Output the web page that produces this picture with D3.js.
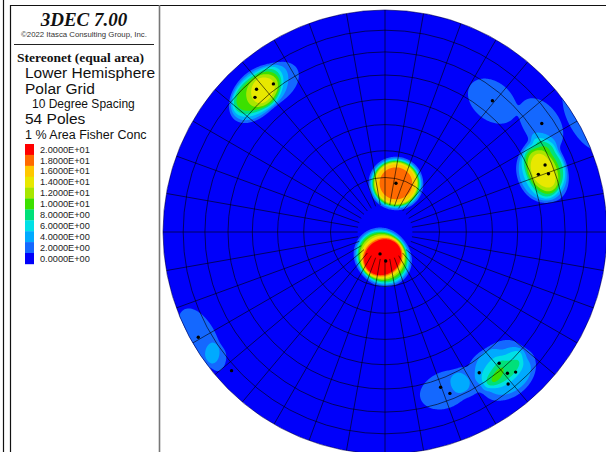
<!DOCTYPE html>
<html>
<head>
<meta charset="utf-8">
<script src="https://cdn.jsdelivr.net/npm/d3@7"></script>
<style>
  html, body { margin: 0; padding: 0; background: #ffffff; }
  svg { display: block; }
</style>
</head>
<body>
<svg id="chart" width="606" height="452"></svg>
<script>
// ---- Pole data (trend / plunge of each pole, degrees; count = coincident poles) ----
const poleTrend  = [192.8, 178.6, 12.7, 318.0, 323.0, 316.0, 67.3, 69.4, 70.4, 39.3, 55.3,
                    139.0, 146.2, 139.1, 137.0, 141.0, 160.3, 158.1, 240.6, 227.9];
const polePlunge = [81.8, 79.4, 71.7, 14.6, 17.6, 16.8, 22.9, 27.1, 22.9, 24.6, 15.2,
                    22.7, 24.7, 16.9, 14.8, 12.9, 26.6, 22.7, 3.9, 7.6];
const poleCount  = [7, 6, 10, 3, 2, 3, 3, 3, 2, 2, 2,
                    2, 1, 1, 1, 1, 1, 1, 2, 1];

// ---- Contour levels (% per 1% area) and their colours ----
const levels = [0, 2, 4, 6, 8, 10, 12, 14, 16, 18, 20];
const levelColors = ["#0000fa", "#1468ff", "#00aaff", "#00e0e6", "#00e07a", "#3ce000",
                     "#a8e600", "#e8e800", "#ffc800", "#ff6a00", "#ff0000"];
const levelLabels = ["0.0000E+00", "2.0000E+00", "4.0000E+00", "6.0000E+00", "8.0000E+00",
                     "1.0000E+01", "1.2000E+01", "1.4000E+01", "1.6000E+01", "1.8000E+01",
                     "2.0000E+01"];

// ---- Legend text ----
const titleText = "3DEC 7.00";
const copyrightText = "\u00A92022 Itasca Consulting Group, Inc.";
const infoLines = ["Lower Hemisphere", "Polar Grid", "10 Degree Spacing", "54 Poles", "1 % Area Fisher Conc"];

const svg = d3.select("#chart");
const W = 606, H = 452;

// ---- Frames ----
const frame = svg.append("g").attr("fill", "none");
frame.append("line").attr("x1", 3.5).attr("x2", 3.5).attr("y1", 0).attr("y2", H)
  .attr("stroke", "#111").attr("stroke-width", 1.2);
frame.append("line").attr("x1", 10.5).attr("x2", 10.5).attr("y1", 5).attr("y2", H)
  .attr("stroke", "#111").attr("stroke-width", 1.2);
frame.append("line").attr("x1", 10).attr("x2", W).attr("y1", 5.5).attr("y2", 5.5)
  .attr("stroke", "#111").attr("stroke-width", 1.2);
frame.append("line").attr("x1", 159.5).attr("x2", 159.5).attr("y1", 5).attr("y2", H)
  .attr("stroke", "#777").attr("stroke-width", 1.6);

// ---- Legend ----
const leg = svg.append("g");
leg.append("text").attr("x", 84).attr("y", 26).attr("text-anchor", "middle")
  .attr("font-family", "Liberation Serif, Times New Roman, serif")
  .attr("font-weight", "bold").attr("font-style", "italic").attr("font-size", 19)
  .attr("fill", "#111").text(titleText);
leg.append("text").attr("x", 84).attr("y", 37).attr("text-anchor", "middle")
  .attr("font-family", "Liberation Sans, Arial, sans-serif").attr("font-size", 7.8)
  .attr("fill", "#333").text(copyrightText);
leg.append("line").attr("x1", 14).attr("x2", 154).attr("y1", 44.5).attr("y2", 44.5)
  .attr("stroke", "#222").attr("stroke-width", 1);
leg.append("text").attr("x", 17).attr("y", 62)
  .attr("font-family", "Liberation Serif, Times New Roman, serif")
  .attr("font-weight", "bold").attr("font-size", 13.5).attr("fill", "#111")
  .text("Stereonet (equal area)");

const infoPos = [
  {x: 25, y: 78, s: 15.5}, {x: 25, y: 94, s: 15.5}, {x: 32, y: 108, s: 12},
  {x: 25, y: 124, s: 15.5}, {x: 25, y: 139, s: 12.5}
];
infoLines.forEach((t, i) => {
  leg.append("text").attr("x", infoPos[i].x).attr("y", infoPos[i].y)
    .attr("font-family", "Liberation Sans, Arial, sans-serif")
    .attr("font-size", infoPos[i].s).attr("fill", "#111").text(t);
});

// colour key, highest level on top
const keyTop = 144, keyH = 10.9;
const keyData = levels.map((v, i) => ({v, c: levelColors[i], t: levelLabels[i]})).reverse();
const keyY = d3.scaleBand().domain(keyData.map(d => d.t)).range([keyTop, keyTop + keyH * keyData.length]);
leg.selectAll("rect.key").data(keyData).join("rect").attr("class", "key")
  .attr("x", 25).attr("width", 9).attr("y", d => keyY(d.t)).attr("height", keyY.bandwidth() + 0.3)
  .attr("fill", d => d.c);
leg.selectAll("text.key").data(keyData).join("text").attr("class", "key")
  .attr("x", 40).attr("y", d => keyY(d.t) + keyY.bandwidth() / 2).attr("dy", "0.35em")
  .attr("font-family", "Liberation Sans, Arial, sans-serif").attr("font-size", 9.2)
  .attr("fill", "#222").text(d => d.t);

// ---- Stereonet (equal-area, lower hemisphere) ----
const cx = 385, cy = 232, R = 222;
const rad = Math.PI / 180;
const rOf = a => R * Math.SQRT2 * Math.sin(a * rad / 2);   // radius for angle from centre

function project(trend, plunge) {
  const r = rOf(90 - plunge);
  return [cx + r * Math.sin(trend * rad), cy - r * Math.cos(trend * rad)];
}
function toVec(trend, plunge) {
  const cp = Math.cos(plunge * rad);
  return [cp * Math.cos(trend * rad), cp * Math.sin(trend * rad), Math.sin(plunge * rad)];
}

const poles = poleTrend.map((t, i) => ({
  trend: t, plunge: polePlunge[i], n: poleCount[i], v: toVec(t, polePlunge[i])
}));
const N = d3.sum(poleCount);

// counting cap of ~1% hemisphere area, with a smooth edge
const capAngle = 8.4;
const edge = 0.7;

// density grid over the net's bounding box
const step = 1;
const x0 = cx - R - 2, y0 = cy - R - 2;
const gw = Math.ceil((2 * R + 4) / step), gh = gw;
const values = new Float64Array(gw * gh);
for (let j = 0; j < gh; j++) {
  for (let i = 0; i < gw; i++) {
    const dx = x0 + (i + 0.5) * step - cx, dy = y0 + (j + 0.5) * step - cy;
    const r = Math.min(Math.hypot(dx, dy), R);
    const theta = 2 * Math.asin(r / (R * Math.SQRT2)) / rad;
    const tr = Math.atan2(dx, -dy) / rad;
    const u = toVec(tr, 90 - theta);
    let s = 0;
    for (const p of poles) {
      const c = Math.min(1, Math.abs(u[0] * p.v[0] + u[1] * p.v[1] + u[2] * p.v[2]));
      const psi = Math.acos(c) / rad;
      s += p.n / (1 + Math.exp((psi - capAngle) / edge));
    }
    values[j * gw + i] = s * 100 / N;
  }
}

const contours = d3.contours().size([gw, gh]).thresholds(levels.slice(1))(values);
const gridPath = d3.geoPath(d3.geoTransform({
  point(x, y) { this.stream.point(x0 + x * step, y0 + y * step); }
}));

svg.append("clipPath").attr("id", "netClip")
  .append("circle").attr("cx", cx).attr("cy", cy).attr("r", R);

const net = svg.append("g").attr("clip-path", "url(#netClip)");
net.append("circle").attr("cx", cx).attr("cy", cy).attr("r", R).attr("fill", levelColors[0]);
const colorOf = d3.scaleThreshold().domain(levels.slice(1)).range(levelColors);
net.selectAll("path.band").data(contours).join("path").attr("class", "band")
  .attr("d", gridPath).attr("fill", d => colorOf(d.value));

// polar grid, 10 degree spacing
const grid = net.append("g").attr("fill", "none").attr("stroke", "#000")
  .attr("stroke-opacity", 0.6).attr("stroke-width", 1);
const ringAngles = d3.range(20, 90, 10);
grid.selectAll("circle").data(ringAngles).join("circle")
  .attr("cx", cx).attr("cy", cy).attr("r", d => rOf(d));
const spokes = d3.range(0, 360, 10);
grid.selectAll("line").data(spokes).join("line")
  .attr("x1", d => cx + rOf(10) * Math.sin(d * rad)).attr("y1", d => cy - rOf(10) * Math.cos(d * rad))
  .attr("x2", d => cx + R * Math.sin(d * rad)).attr("y2", d => cy - R * Math.cos(d * rad));

svg.append("circle").attr("cx", cx).attr("cy", cy).attr("r", R)
  .attr("fill", "none").attr("stroke", "#000050").attr("stroke-opacity", 0.6).attr("stroke-width", 1);

// pole markers
svg.append("g").selectAll("circle").data(poles).join("circle")
  .attr("cx", d => project(d.trend, d.plunge)[0]).attr("cy", d => project(d.trend, d.plunge)[1])
  .attr("r", 1.7).attr("fill", "#000");
</script>
</body>
</html>
